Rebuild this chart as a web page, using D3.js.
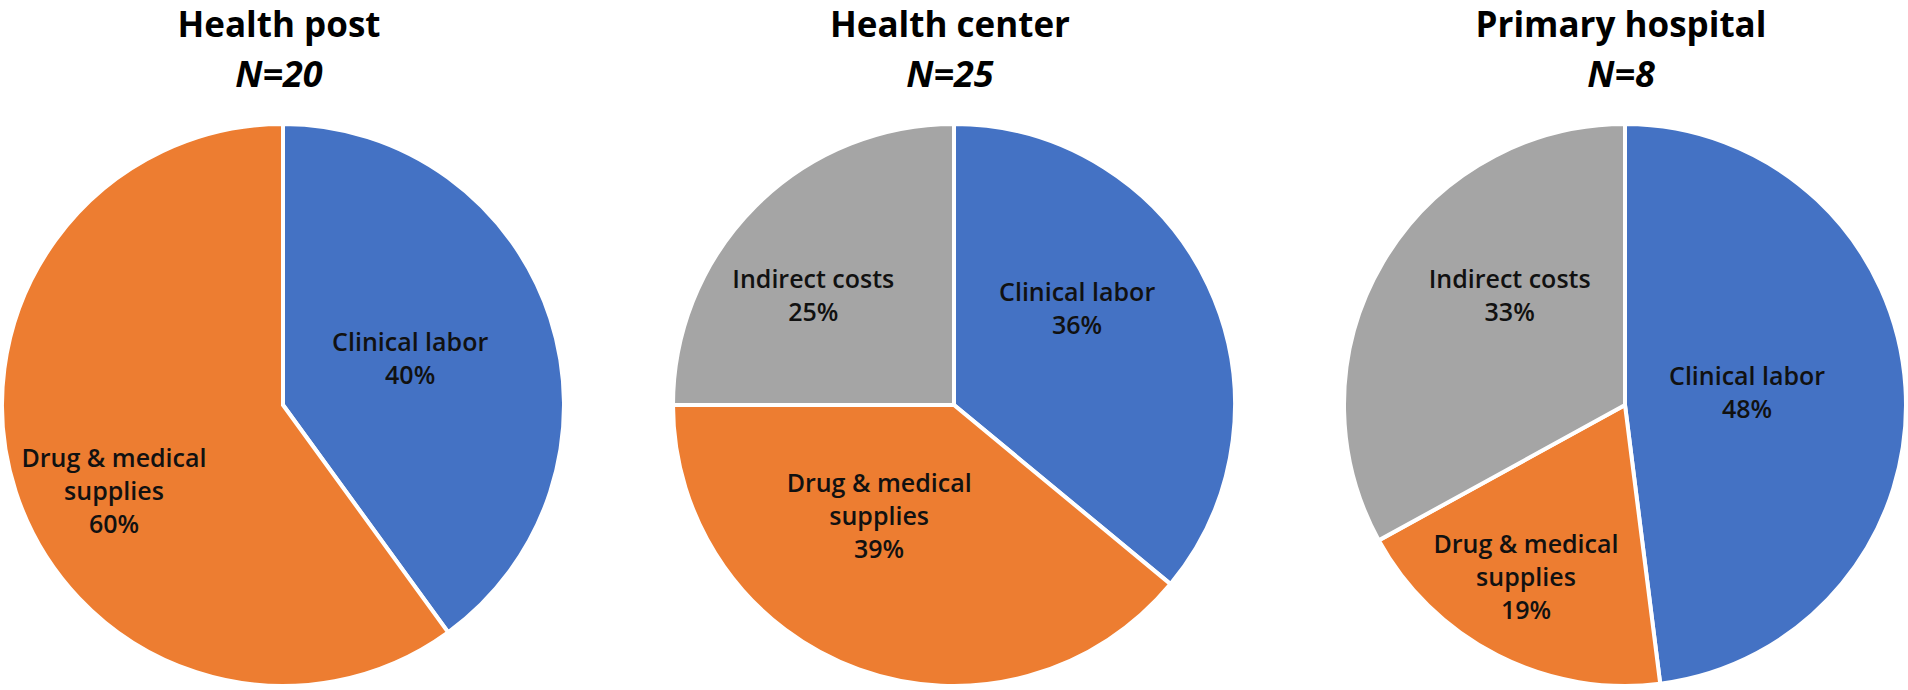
<!DOCTYPE html>
<html>
<head>
<meta charset="utf-8">
<script src="https://cdn.jsdelivr.net/npm/d3@7"></script>
<style>
  body { margin: 0; background: #fff; }
  .title { font-family: "Open Sans", sans-serif; font-weight: 700; font-size: 35px; fill: #000; }
  .subtitle { font-family: "Open Sans", sans-serif; font-weight: 700; font-style: italic; font-size: 36px; fill: #000; }
  .label { font-family: "Open Sans", sans-serif; font-weight: 600; font-size: 25px; fill: #111; }
</style>
</head>
<body>
<div id="chart_div"></div>
<script>
// data
var facilities = ["Health post", "Health center", "Primary hospital"];
var sampleSizes = [20, 25, 8];
var categories = ["Clinical labor", "Drug & medical supplies", "Indirect costs"];
var categoryLines = [["Clinical labor"], ["Drug & medical", "supplies"], ["Indirect costs"]];
var healthPost = [40, 60, 0];
var healthCenter = [36, 39, 25];
var primaryHospital = [48, 19, 33];
var shares = [healthPost, healthCenter, primaryHospital];

// layout: label position per slice as [angle in degrees, fraction of radius]
var labelPolar = [
    [[70, 0.485], [243, 0.68], null],
    [[52, 0.56], [214, 0.48], [308, 0.64]],
    [[84, 0.44], [210, 0.71], [313.5, 0.57]]
];
var colors = ["#4472C4", "#ED7D31", "#A5A5A5"];

var width = 1908, height = 690;
var radius = 281, cy = 405;
var lineGap = 33, capH = 18;

var svg = d3.select("#chart_div")
    .append("svg")
    .attr("width", width)
    .attr("height", height);

var x = d3.scalePoint()
    .domain(facilities)
    .range([283, 1625]);

var pie = d3.pie()
    .sort(null)
    .value(function(d) { return d.value; });

var arc = d3.arc()
    .innerRadius(0)
    .outerRadius(radius);

facilities.forEach(function(name, i) {
    var rows = categories.map(function(c, j) {
        return { cat: j, value: shares[i][j] };
    }).filter(function(d) { return d.value > 0; });

    var g = svg.append("g")
        .attr("transform", "translate(" + x(name) + "," + cy + ")");

    g.selectAll("path")
        .data(pie(rows))
        .enter()
        .append("path")
        .attr("d", arc)
        .attr("fill", function(d) { return colors[d.data.cat]; })
        .attr("stroke", "#fff")
        .attr("stroke-width", 4)
        .attr("stroke-linejoin", "miter");

    // labels
    pie(rows).forEach(function(d) {
        var pos = labelPolar[i][d.data.cat];
        var a = pos[0] * Math.PI / 180;
        var rr = pos[1] * (radius - 2);
        var lx = rr * Math.sin(a), ly = -rr * Math.cos(a);
        var lines = categoryLines[d.data.cat].concat([d.data.value + "%"]);
        var top = ly - (capH + (lines.length - 1) * lineGap) / 2 + capH;
        var t = g.append("text")
            .attr("class", "label")
            .attr("text-anchor", "middle");
        lines.forEach(function(s, k) {
            t.append("tspan")
                .attr("x", lx)
                .attr("y", top + k * lineGap)
                .text(s);
        });
    });

    // titles
    svg.append("text")
        .attr("class", "title")
        .attr("text-anchor", "middle")
        .attr("x", x(name) - 4)
        .attr("y", 37)
        .text(name);

    svg.append("text")
        .attr("class", "subtitle")
        .attr("text-anchor", "middle")
        .attr("x", x(name) - 4)
        .attr("y", 87)
        .text("N=" + sampleSizes[i]);
});
</script>
</body>
</html>
